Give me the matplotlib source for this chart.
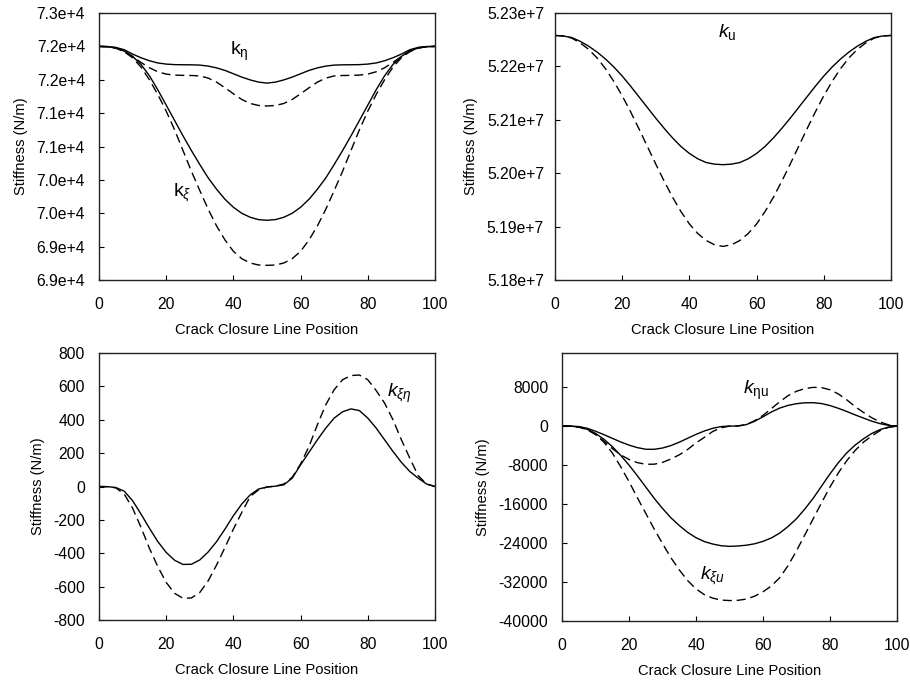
import numpy as np
import matplotlib.pyplot as plt

plt.rcParams['font.family'] = ['Liberation Sans', 'DejaVu Sans']
plt.rcParams['mathtext.fontset'] = 'custom'
plt.rcParams['mathtext.rm'] = 'Liberation Sans'
plt.rcParams['mathtext.it'] = 'Liberation Sans:italic'
plt.rcParams['mathtext.sf'] = 'Liberation Sans'
plt.rcParams['axes.unicode_minus'] = False

# crack closure line position, sampled every 2.5
position = np.arange(0, 100.1, 2.5)

# A = solid curve, B = dashed curve
kEtaA = [72000, 71998, 71985, 71950, 71885, 71830, 71785, 71752, 71735, 71727, 71725,
         71724, 71720, 71705, 71678, 71640, 71590, 71540, 71498, 71465, 71450,
         71465, 71498, 71540, 71590, 71640, 71678, 71705, 71720, 71724, 71725,
         71727, 71735, 71752, 71785, 71830, 71885, 71950, 71985, 71998, 72000]
kEtaB = [72000, 71997, 71980, 71930, 71850, 71760, 71680, 71620, 71585, 71570, 71566,
         71564, 71558, 71525, 71465, 71380, 71290, 71205, 71145, 71115, 71107,
         71115, 71145, 71205, 71290, 71380, 71465, 71525, 71558, 71564, 71566,
         71570, 71585, 71620, 71680, 71760, 71850, 71930, 71980, 71997, 72000]
kXiA = [72000, 71995, 71975, 71930, 71850, 71730, 71560, 71350, 71120, 70890, 70660,
        70440, 70230, 70030, 69860, 69710, 69590, 69500, 69440, 69405, 69395,
        69405, 69440, 69500, 69590, 69710, 69860, 70030, 70230, 70440, 70660,
        70890, 71120, 71350, 71560, 71730, 71850, 71930, 71975, 71995, 72000]
kXiB = [72000, 71995, 71975, 71920, 71830, 71690, 71500, 71280, 71030, 70750, 70440,
        70130, 69840, 69560, 69310, 69100, 68930, 68820, 68755, 68725, 68720,
        68725, 68755, 68820, 68930, 69100, 69310, 69560, 69840, 70130, 70440,
        70750, 71030, 71280, 71500, 71690, 71830, 71920, 71975, 71995, 72000]

kUA = [52258000, 52257000, 52254000, 52247000, 52238000, 52227000, 52214000, 52199000,
       52182000, 52163000, 52143000, 52123000, 52103000, 52084000, 52066000, 52050000,
       52037000, 52027000, 52020000, 52017000, 52016000, 52017000, 52020000, 52027000,
       52037000, 52050000, 52066000, 52084000, 52103000, 52123000, 52143000, 52163000,
       52182000, 52199000, 52214000, 52227000, 52238000, 52247000, 52254000, 52257000,
       52258000]
kUB = [52258000, 52257000, 52253000, 52244000, 52232000, 52216000, 52196000, 52172000,
       52145000, 52115000, 52083000, 52050000, 52017000, 51985000, 51955000, 51928000,
       51905000, 51887000, 51874000, 51866000, 51863000, 51866000, 51874000, 51887000,
       51905000, 51928000, 51955000, 51985000, 52017000, 52050000, 52083000, 52115000,
       52145000, 52172000, 52196000, 52216000, 52232000, 52244000, 52253000, 52257000,
       52258000]

kXiEtaA = [0, -1, -6, -28, -85, -165, -250, -330, -395, -442, -467,
           -466, -440, -392, -330, -255, -175, -105, -50, -15, -3,
           2, 10, 50, 130, 205, 280, 350, 410, 448, 465,
           455, 410, 350, 280, 210, 145, 90, 50, 15, 0]
kXiEtaB = [0, -1, -8, -45, -130, -245, -370, -480, -575, -640, -670,
           -668, -635, -565, -470, -365, -255, -155, -60, -20, -3,
           2, 15, 55, 135, 240, 370, 490, 580, 640, 665,
           668, 640, 575, 500, 400, 280, 170, 65, 15, 0]

kEtaUA = [0, -10, -100, -450, -1050, -1750, -2500, -3250, -3900, -4420, -4750,
          -4760, -4500, -4000, -3300, -2500, -1700, -1000, -450, -100, 0,
          30, 300, 1000, 1900, 2900, 3700, 4250, 4600, 4780, 4800,
          4620, 4220, 3650, 3000, 2300, 1650, 1000, 500, 150, 0]
kEtaUB = [0, -10, -150, -650, -1700, -3100, -4600, -5900, -6850, -7500, -7830,
          -7820, -7450, -6750, -5900, -4800, -3450, -2300, -1100, -350, 0,
          30, 300, 1100, 2200, 3600, 5000, 6250, 7150, 7700, 7950,
          7900, 7450, 6600, 5400, 4000, 2800, 1700, 850, 250, 0]
kXiUA = [0, -20, -150, -650, -1500, -2700, -4200, -6000, -8000, -10200, -12500,
         -14800, -16900, -18800, -20400, -21800, -22900, -23700, -24200, -24550, -24680,
         -24600, -24450, -24150, -23650, -22950, -21950, -20600, -19000, -17000, -14800,
         -12300, -9800, -7500, -5500, -3900, -2600, -1500, -700, -200, 0]
kXiUB = [0, -20, -200, -750, -1700, -3300, -5500, -8300, -11400, -14700, -17900,
         -21100, -24100, -27000, -29500, -31700, -33400, -34600, -35300, -35700, -35800,
         -35750, -35500, -34900, -34000, -32800, -31100, -28600, -25600, -22300, -19000,
         -15700, -12500, -9600, -7100, -5000, -3300, -2000, -900, -250, 0]

# y-axis ticks and labels for each panel
ticksTL = [68500, 69000, 69500, 70000, 70500, 71000, 71500, 72000, 72500]
labelsTL = ['6.9e+4', '6.9e+4', '7.0e+4', '7.0e+4', '7.1e+4',
            '7.1e+4', '7.2e+4', '7.2e+4', '7.3e+4']
ticksTR = [51800000, 51900000, 52000000, 52100000, 52200000, 52300000]
labelsTR = ['5.18e+7', '5.19e+7', '5.20e+7', '5.21e+7', '5.22e+7', '5.23e+7']
ticksBL = [-800, -600, -400, -200, 0, 200, 400, 600, 800]
ticksBR = [-40000, -32000, -24000, -16000, -8000, 0, 8000]

DASH = (0, (6.5, 3.5))
LW = 1.0
FS = 11.3
LABEL_FS = 10.6


def styleAxes(ax, yticks, ylim, ylabels=None):
    ax.set_xlim(0, 100)
    ax.set_xticks([0, 20, 40, 60, 80, 100])
    ax.set_ylim(*ylim)
    ax.set_yticks(yticks)
    if ylabels is not None:
        ax.set_yticklabels(ylabels)
    ax.tick_params(direction='in', length=3.5, width=0.8, labelsize=FS)
    ax.tick_params(axis='x', pad=12)
    ax.tick_params(axis='y', pad=10)
    for s in ax.spines.values():
        s.set_linewidth(1.0)
        s.set_color('#222222')
    ax.set_xlabel('Crack Closure Line Position', fontsize=LABEL_FS, labelpad=8)
    ax.set_ylabel('Stiffness (N/m)', fontsize=LABEL_FS, labelpad=6)


fig = plt.figure(figsize=(9.1, 6.82), dpi=100)

ax1 = fig.add_axes([0.1088, 0.5894, 0.3692, 0.3915])
ax1.plot(position, kEtaA, color='black', lw=LW)
ax1.plot(position, kEtaB, color='black', lw=LW, linestyle=DASH)
ax1.plot(position, kXiA, color='black', lw=LW)
ax1.plot(position, kXiB, color='black', lw=LW, linestyle=DASH)
styleAxes(ax1, ticksTL, (68500, 72500), labelsTL)
ax1.text(39, 71865, r'$\mathrm{k}_{\mathrm{\eta}}$', fontsize=14, ha='left', va='baseline')
ax1.text(22, 69755, r'$\mathrm{k}_{\xi}$', fontsize=14, ha='left', va='baseline')

ax2 = fig.add_axes([0.6099, 0.5894, 0.3692, 0.3915])
ax2.plot(position, kUA, color='black', lw=LW)
ax2.plot(position, kUB, color='black', lw=LW, linestyle=DASH)
styleAxes(ax2, ticksTR, (51800000, 52300000), labelsTR)
ax2.tick_params(axis='y', pad=8)
ax2.text(48.6, 52255100, r'$k_{\mathrm{u}}$', fontsize=14, ha='left', va='baseline')

ax3 = fig.add_axes([0.1088, 0.0909, 0.3692, 0.3915])
ax3.plot(position, kXiEtaA, color='black', lw=LW)
ax3.plot(position, kXiEtaB, color='black', lw=LW, linestyle=DASH)
styleAxes(ax3, ticksBL, (-800, 800))
ax3.text(85.7, 539, r'$k_{\xi\eta}$', fontsize=14, ha='left', va='baseline')

ax4 = fig.add_axes([0.6176, 0.0894, 0.3681, 0.3930])
ax4.plot(position, kEtaUA, color='black', lw=LW)
ax4.plot(position, kEtaUB, color='black', lw=LW, linestyle=DASH)
ax4.plot(position, kXiUA, color='black', lw=LW)
ax4.plot(position, kXiUB, color='black', lw=LW, linestyle=DASH)
styleAxes(ax4, ticksBR, (-40000, 15000))
ax4.text(54.1, 6520, r'$k_{\mathrm{\eta u}}$', fontsize=14, ha='left', va='baseline')
ax4.text(41.2, -31390, r'$k_{\xi u}$', fontsize=14, ha='left', va='baseline')

fig.savefig('out.png', dpi=100)
